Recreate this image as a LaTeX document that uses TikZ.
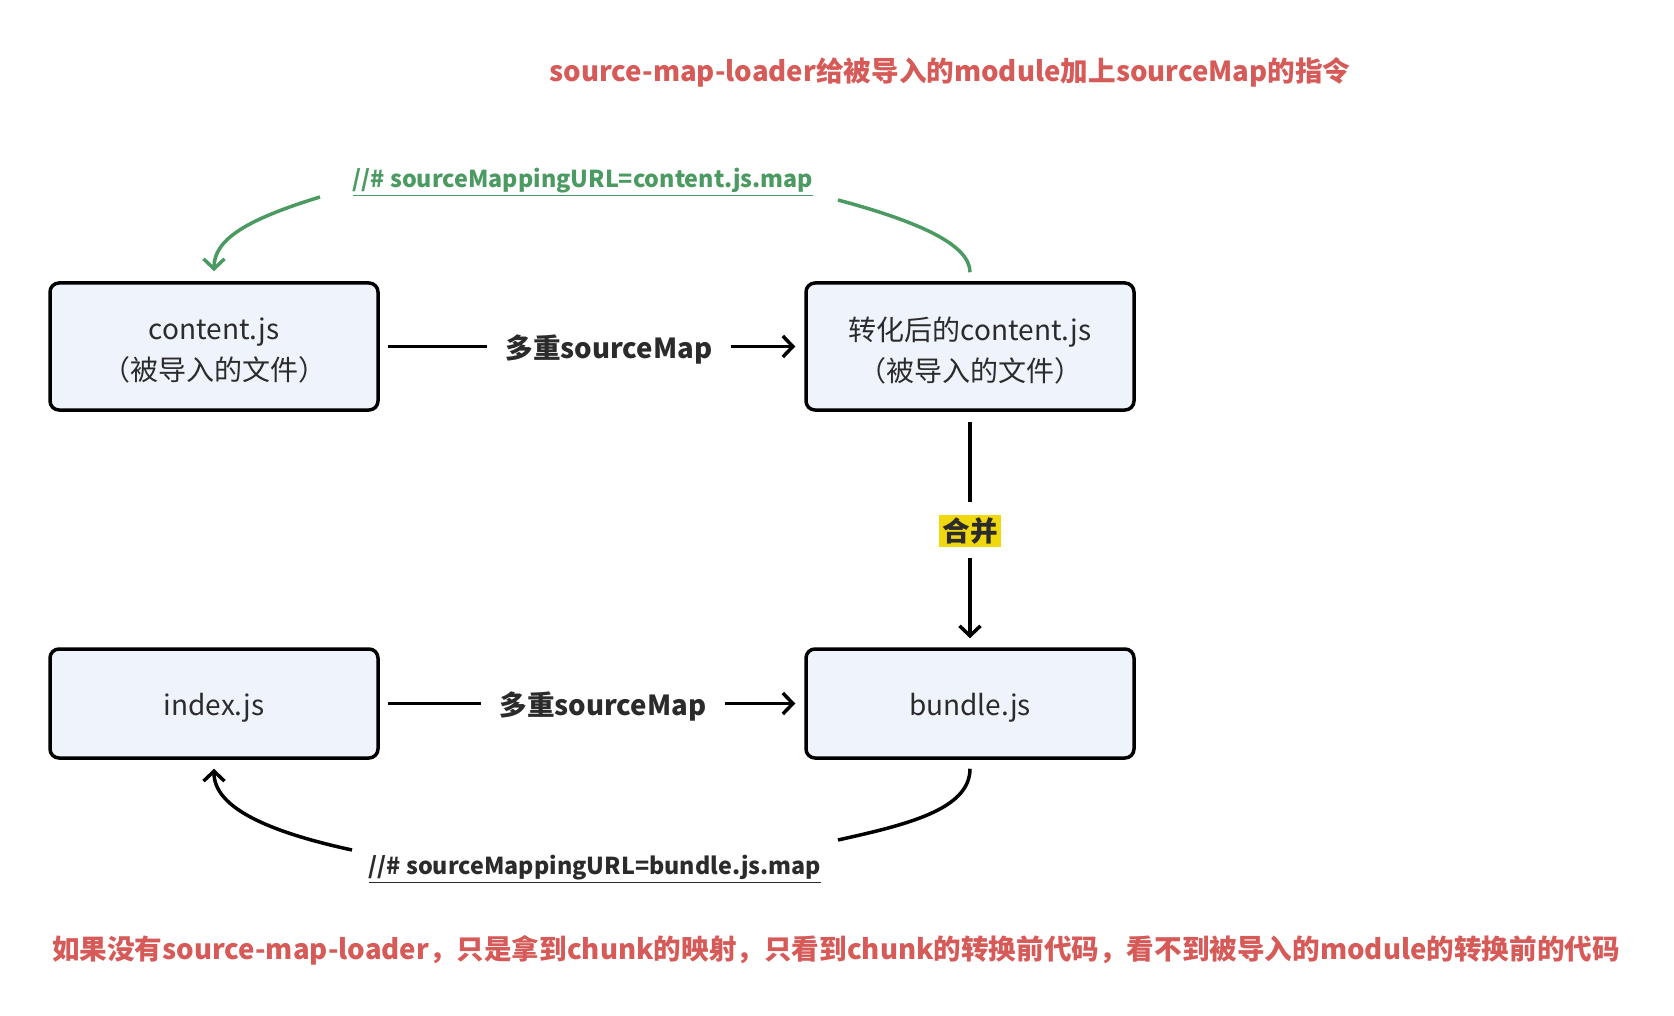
\documentclass[tikz,border=0pt]{standalone}
\usepackage{fontspec}
\setmainfont{Noto Sans CJK SC}
\usetikzlibrary{arrows.meta}
\definecolor{redtxt}{HTML}{D65B58}
\definecolor{greenln}{HTML}{4B9A62}
\definecolor{boxfill}{HTML}{EEF3FC}
\definecolor{txtdark}{HTML}{2B2B2B}
\definecolor{hlyellow}{HTML}{F0D80F}
\newcommand\lowertxt[2]{\raisebox{-#1}[\height][\depth]{#2}}
\tikzset{
  filebox/.style={draw=black, line width=3.5pt, rounded corners=9pt, fill=boxfill,
    minimum width=328pt, inner sep=0pt, align=center, text=txtdark,
    font=\fontsize{28pt}{41pt}\selectfont},
  conn/.style={line width=3.5pt, draw=black},
  tip/.style={-{Straight Barb[length=10pt,width=21pt,line width=3.5pt]}},
  edgelbl/.style={font=\fontsize{27.6pt}{32pt}\selectfont\bfseries, text=txtdark, inner sep=0pt},
  note/.style={font=\fontsize{27.6pt}{34pt}\selectfont\bfseries, text=redtxt, inner sep=0pt},
  urllbl/.style={font=\fontsize{23.3pt}{30pt}\selectfont\bfseries, inner sep=0pt}
}
\begin{document}
\begin{tikzpicture}[x=1pt,y=-1pt]
\path[use as bounding box, fill=white] (0,0) rectangle (1674,1016);

\node[note] (title) at (950,72) {source-map-loader给被导入的module加上sourceMap的指令};

\node[urllbl, text=greenln] (gurl) at (583,182) {\underline{//\# sourceMappingURL=content.js.map}};

\node[filebox, minimum height=127pt] (c1) at (214,346.5) {\lowertxt{4pt}{content.js}\\\lowertxt{4pt}{（被导入的文件）}};
\node[filebox, minimum height=127pt] (c2) at (970,346.5) {\lowertxt{4pt}{转化后的content.js}\\\lowertxt{4pt}{（被导入的文件）}};
\node[filebox, minimum height=109pt] (i1) at (214,703.5) {\lowertxt{4pt}{index.js}};
\node[filebox, minimum height=109pt] (b1) at (970,703.5) {\lowertxt{4pt}{bundle.js}};

\node[edgelbl] (m1) at (609,346.5) {\lowertxt{3pt}{多重sourceMap}};
\node[edgelbl] (m2) at (603,703.5) {\lowertxt{3pt}{多重sourceMap}};
\node[edgelbl, fill=hlyellow, inner sep=3pt] (merge) at (970,531) {合并};

\node[urllbl, text=txtdark] (burl) at (595,869) {\underline{//\# sourceMappingURL=bundle.js.map}};

\node[note] (bottom) at (836,950) {如果没有source-map-loader，只是拿到chunk的映射，只看到chunk的转换前代码，看不到被导入的module的转换前的代码};

% horizontal connectors
\draw[conn] ([xshift=8pt]c1.east) -- ([xshift=-18pt]m1.west);
\draw[conn, tip] ([xshift=18pt]m1.east) -- ([xshift=-9pt]c2.west);
\draw[conn] ([xshift=8pt]i1.east) -- ([xshift=-18pt]m2.west);
\draw[conn, tip] ([xshift=18pt]m2.east) -- ([xshift=-9pt]b1.west);

% vertical
\draw[conn] ([yshift=-10pt]c2.south) -- ([yshift=12pt]merge.north);
\draw[conn, tip] ([yshift=-10pt]merge.south) -- ([yshift=9pt]b1.north);

% green curves
\coordinate (gl) at (320,197);
\coordinate (gr) at (838,200);
\draw[line width=3.5pt, draw=greenln, -{Straight Barb[length=10pt,width=21pt,line width=3.5pt]}]
  (gl) .. controls (245,220) and (214,240) .. ([yshift=10pt]c1.north);
\draw[line width=3.5pt, draw=greenln]
  (gr) .. controls (920,222) and (970,245) .. ([yshift=9pt]c2.north);

% black curves
\coordinate (bl) at (352,850);
\coordinate (br) at (838,840);
\draw[conn] ([yshift=-9pt]b1.south) .. controls (970,810) and (905,825) .. (br);
\draw[conn, tip] (bl) .. controls (260,830) and (214,805) .. ([yshift=-9pt]i1.south);
\end{tikzpicture}
\end{document}
